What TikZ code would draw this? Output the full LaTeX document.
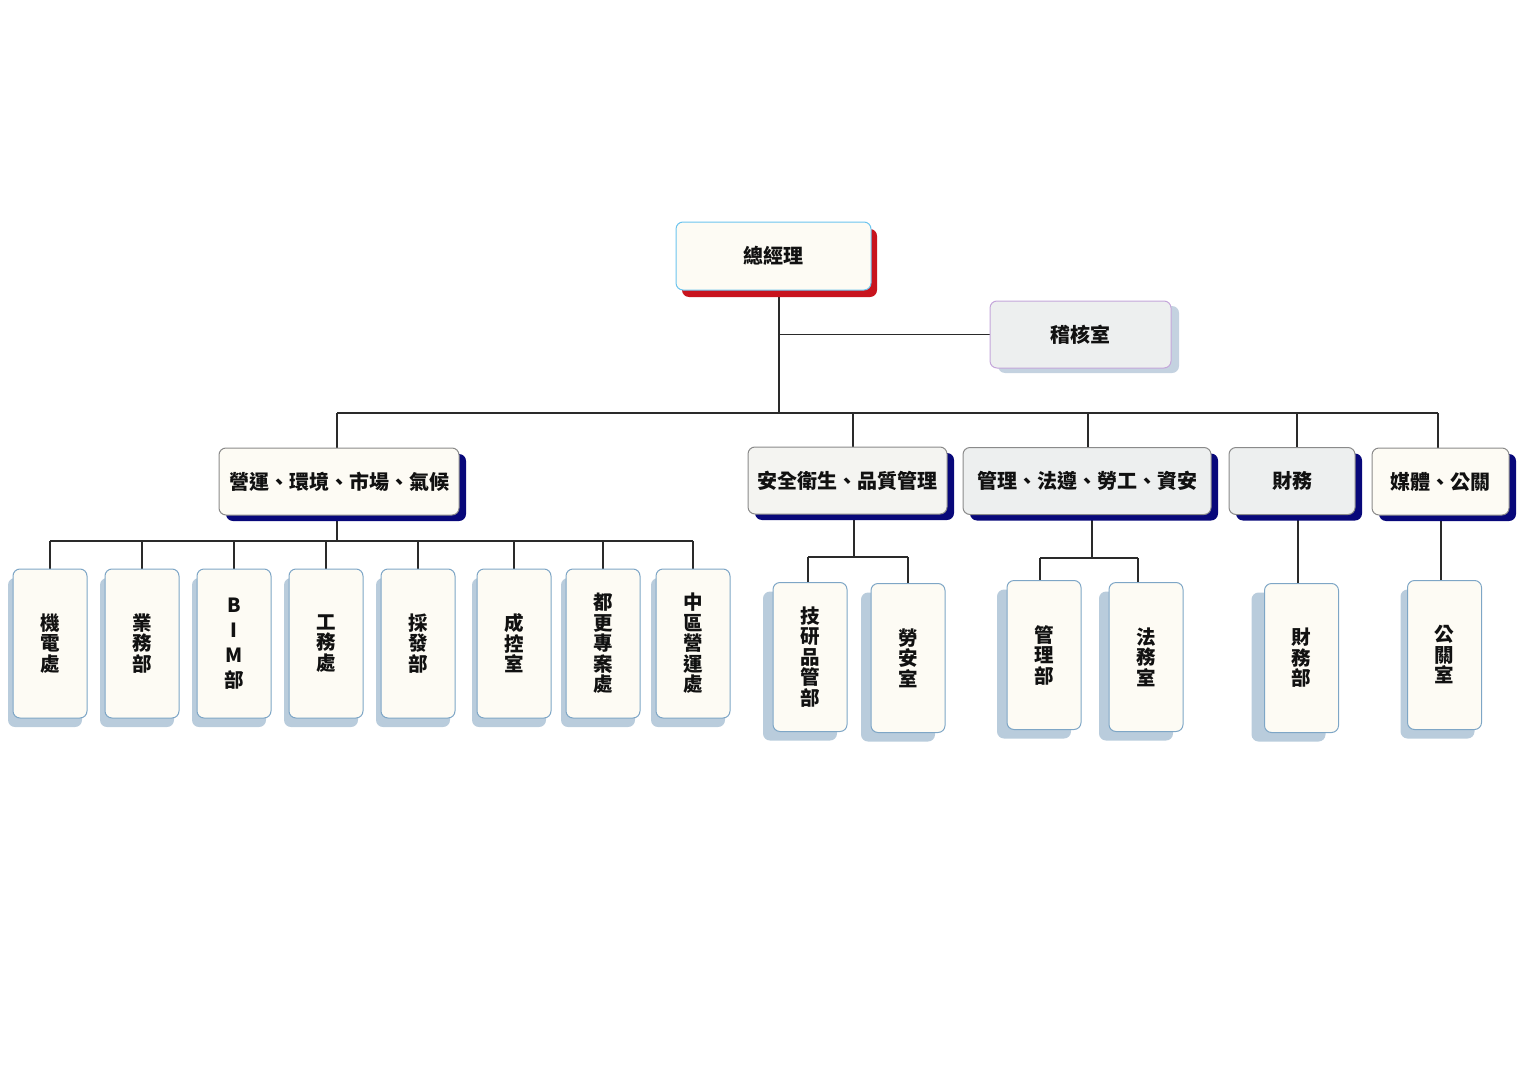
\documentclass[tikz,border=0pt]{standalone}
\usepackage{fontspec}
\setmainfont{Noto Sans CJK TC}
\usetikzlibrary{shadows,backgrounds}
\definecolor{cream}{HTML}{FDFBF4}
\definecolor{lgray}{HTML}{EDEFEF}
\definecolor{sgray}{HTML}{F4F4F1}
\definecolor{gmborder}{HTML}{6CC4EE}
\definecolor{gmshadow}{HTML}{C8141E}
\definecolor{auborder}{HTML}{C4A6DA}
\definecolor{aushadow}{HTML}{C4D2E0}
\definecolor{lborder}{HTML}{8A8A8A}
\definecolor{navy}{HTML}{08087A}
\definecolor{vborder}{HTML}{7EA6C6}
\definecolor{vshadow}{HTML}{B9CCDC}
\definecolor{linec}{HTML}{2A2A2A}
\definecolor{textc}{HTML}{111111}
\tikzset{
  box/.style={rounded corners=7pt, draw, line width=1pt, inner sep=0pt, align=center,
    font=\bfseries\fontsize{20}{24}\selectfont, text=textc},
  gmbox/.style={box, draw=gmborder, fill=cream,
    general shadow={fill=gmshadow, shadow xshift=6pt, shadow yshift=-7pt}},
  aubox/.style={box, draw=auborder, fill=lgray,
    general shadow={fill=aushadow, shadow xshift=8pt, shadow yshift=-5pt}},
  lbox/.style={box, draw=lborder, minimum height=67pt,
    general shadow={fill=navy, shadow xshift=7pt, shadow yshift=-6pt}},
  vbox/.style={box, font=\bfseries\fontsize{19.5}{20.5}\selectfont, draw=vborder, fill=cream,
    minimum width=74pt, minimum height=149pt,
    general shadow={fill=vshadow, shadow xshift=#1, shadow yshift=-9pt}},
  vbox/.default=-5pt,
  conn/.style={draw=linec, line width=1.1pt}
}
\begin{document}
\begin{tikzpicture}[x=1pt,y=-1pt]
\useasboundingbox (0,0) rectangle (1536,1086);

% top level
\node[gmbox, minimum width=195pt, minimum height=68pt] (gm) at (773.5,256) {總經理};
\node[aubox, minimum width=181pt, minimum height=67pt] (audit) at (1080.5,334.5) {稽核室};

% second level
\node[lbox, fill=cream, minimum width=240pt] (ops) at (339,481.5) {營運、環境、市場、氣候};
\node[lbox, fill=sgray, minimum width=199pt] (safe) at (847.5,480.5) {安全衛生、品質管理};
\node[lbox, fill=lgray, minimum width=248pt] (mgmt) at (1087,481) {管理、法遵、勞工、資安};
\node[lbox, fill=lgray, minimum width=126pt] (fin) at (1292,481) {財務};
\node[lbox, fill=cream, minimum width=137pt] (media) at (1440.5,481.5) {媒體、公關};

% third level under ops
\node[vbox] (c1) at (50,643.5) {機\\電\\處};
\node[vbox] (c2) at (142,643.5) {業\\務\\部};
\node[vbox, font=\bfseries\fontsize{19.5}{25}\selectfont] (c3) at (234,643.5) {B\\I\\M\\部};
\node[vbox] (c4) at (326,643.5) {工\\務\\處};
\node[vbox] (c5) at (418,643.5) {採\\發\\部};
\node[vbox] (c6) at (514,643.5) {成\\控\\室};
\node[vbox] (c7) at (603,643.5) {都\\更\\專\\案\\處};
\node[vbox] (c8) at (693,643.5) {中\\區\\營\\運\\處};

% third level others
\node[vbox=-10pt] (s1) at (810,657) {技\\研\\品\\管\\部};
\node[vbox=-10pt] (s2) at (908,658) {勞\\安\\室};
\node[vbox=-10pt] (m1) at (1044,655) {管\\理\\部};
\node[vbox=-10pt] (m2) at (1146,657) {法\\務\\室};
\node[vbox=-13pt] (f1) at (1301.5,658) {財\\務\\部};
\node[vbox=-7pt] (p1) at (1444.5,655) {公\\關\\室};

% junction coordinates
\coordinate (trunk) at (779,413);
\coordinate (d1) at (337,413);
\coordinate (d2) at (853,413);
\coordinate (d3) at (1088,413);
\coordinate (d4) at (1297,413);
\coordinate (d5) at (1438,413);
\coordinate (e1) at (337,541);
\coordinate (e2) at (854,557);
\coordinate (sL) at (808,557);
\coordinate (sR) at (908,557);
\coordinate (e3) at (1092,558);
\coordinate (mL) at (1040,558);
\coordinate (mR) at (1138,558);
\coordinate (e4) at (1298,560);
\coordinate (e5) at (1441,560);

\begin{pgfonlayer}{background}
  % top
  \draw[conn] (gm.south -| trunk) -- (trunk);
  \draw[conn] (trunk |- audit.west) -- (audit.west);
  \draw[conn] (d1) -- (d5);
  \draw[conn] (d1) -- (d1 |- ops.north);
  \draw[conn] (d2) -- (d2 |- safe.north);
  \draw[conn] (d3) -- (d3 |- mgmt.north);
  \draw[conn] (d4) -- (d4 |- fin.north);
  \draw[conn] (d5) -- (d5 |- media.north);
  % ops children
  \draw[conn] (e1 |- ops.south) -- (e1);
  \draw[conn] (c1.north |- e1) -- (c8.north |- e1);
  \foreach \c in {c1,c2,c3,c4,c5,c6,c7,c8}
    \draw[conn] (\c.north |- e1) -- (\c.north);
  % safe children
  \draw[conn] (e2 |- safe.south) -- (e2);
  \draw[conn] (sL) -- (sR);
  \draw[conn] (sL) -- (sL |- s1.north);
  \draw[conn] (sR) -- (sR |- s2.north);
  % mgmt children
  \draw[conn] (e3 |- mgmt.south) -- (e3);
  \draw[conn] (mL) -- (mR);
  \draw[conn] (mL) -- (mL |- m1.north);
  \draw[conn] (mR) -- (mR |- m2.north);
  % fin and media
  \draw[conn] (e4 |- fin.south) -- (e4 |- f1.north);
  \draw[conn] (e5 |- media.south) -- (e5 |- p1.north);
\end{pgfonlayer}
\end{tikzpicture}
\end{document}
